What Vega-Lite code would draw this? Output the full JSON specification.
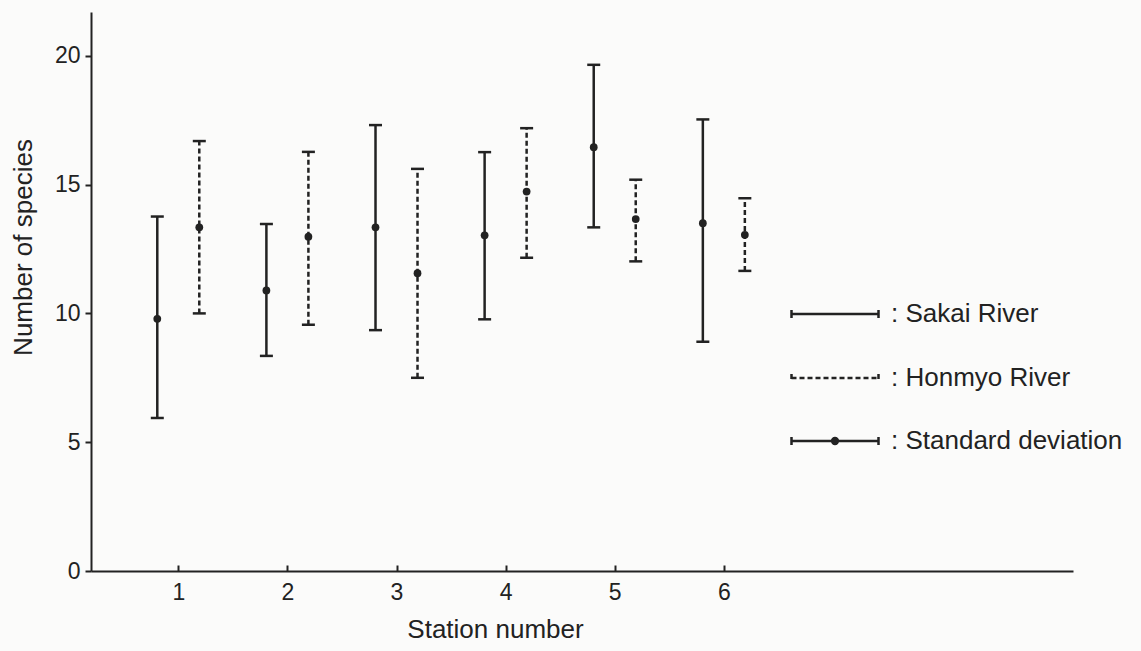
{
  "$schema": "https://vega.github.io/schema/vega-lite/v6.json",
  "width": 982,
  "height": 559,
  "autosize": {"type": "none"},
  "padding": {"left": 91, "top": 12, "right": 68, "bottom": 80},
  "background": "#fbfbfa",
  "config": {
    "view": {"stroke": null},
    "font": "Liberation Sans",
    "axis": {
      "grid": false,
      "domainColor": "#222222",
      "domainWidth": 2,
      "tickColor": "#222222",
      "tickWidth": 2,
      "labelFont": "Liberation Sans",
      "labelFontSize": 23,
      "labelColor": "#222222",
      "titleFont": "Liberation Sans",
      "titleFontSize": 26,
      "titleFontWeight": "normal",
      "titleColor": "#222222"
    },
    "legend": {
      "labelFont": "Liberation Sans",
      "labelFontSize": 26,
      "labelColor": "#222222",
      "labelLimit": 400
    }
  },
  "data": {
    "values": [
      {"station": 1, "river": "Sakai River", "mean": 9.79, "lo": 5.94, "hi": 13.76},
      {"station": 1, "river": "Honmyo River", "mean": 13.34, "lo": 10.0, "hi": 16.69},
      {"station": 2, "river": "Sakai River", "mean": 10.89, "lo": 8.35, "hi": 13.47},
      {"station": 2, "river": "Honmyo River", "mean": 12.98, "lo": 9.56, "hi": 16.27},
      {"station": 3, "river": "Sakai River", "mean": 13.34, "lo": 9.35, "hi": 17.31},
      {"station": 3, "river": "Honmyo River", "mean": 11.56, "lo": 7.5, "hi": 15.61},
      {"station": 4, "river": "Sakai River", "mean": 13.03, "lo": 9.77, "hi": 16.26},
      {"station": 4, "river": "Honmyo River", "mean": 14.73, "lo": 12.16, "hi": 17.19},
      {"station": 5, "river": "Sakai River", "mean": 16.45, "lo": 13.34, "hi": 19.65},
      {"station": 5, "river": "Honmyo River", "mean": 13.66, "lo": 12.02, "hi": 15.19},
      {"station": 6, "river": "Sakai River", "mean": 13.5, "lo": 8.9, "hi": 17.53},
      {"station": 6, "river": "Honmyo River", "mean": 13.05, "lo": 11.65, "hi": 14.47}
    ]
  },
  "encoding": {
    "x": {
      "field": "station",
      "type": "quantitative",
      "scale": {"domain": [0.2, 9.2], "nice": false, "zero": false},
      "axis": {
        "values": [1, 2, 3, 4, 5, 6],
        "tickSize": -6,
        "labelPadding": 16,
        "title": "Station number",
        "titlePadding": 12,
        "titleX": 404,
        "titleAlign": "center"
      }
    }
  },
  "layer": [
    {
      "mark": {"type": "rule", "color": "#222222", "strokeWidth": 2.5, "xOffset": {"expr": "datum.river === 'Sakai River' ? -21 : 21"}},
      "encoding": {
        "y": {
          "field": "lo",
          "type": "quantitative",
          "scale": {"domain": [0, 21.7], "nice": false},
          "axis": {
            "values": [0, 5, 10, 15, 20],
            "tickSize": 6,
            "labelPadding": 5,
            "title": "Number of species",
            "titlePadding": 18,
            "titleY": 235
          }
        },
        "y2": {"field": "hi"},
        "strokeDash": {
          "field": "river",
          "type": "nominal",
          "scale": {"domain": ["Sakai River", "Honmyo River"], "range": [[1, 0], [5, 3]]},
          "legend": {
            "title": null,
            "orient": "none",
            "legendX": 699,
            "legendY": 286,
            "symbolType": "M-1,-0.28L-1,0.28M-1,0L5,0M5,-0.28L5,0.28",
            "symbolSize": 841,
            "symbolStrokeWidth": 2.5,
            "symbolStrokeColor": "#222222",
            "labelOffset": 69,
            "rowPadding": 35,
            "labelExpr": "': ' + datum.label"
          }
        }
      }
    },
    {
      "mark": {"type": "tick", "orient": "horizontal", "color": "#222222", "opacity": 1, "thickness": 2.5, "size": 13, "xOffset": {"expr": "datum.river === 'Sakai River' ? -21 : 21"}},
      "encoding": {"y": {"field": "hi", "type": "quantitative"}}
    },
    {
      "mark": {"type": "tick", "orient": "horizontal", "color": "#222222", "opacity": 1, "thickness": 2.5, "size": 13, "xOffset": {"expr": "datum.river === 'Sakai River' ? -21 : 21"}},
      "encoding": {"y": {"field": "lo", "type": "quantitative"}}
    },
    {
      "mark": {"type": "point", "filled": true, "color": "#222222", "size": 60, "opacity": 1, "xOffset": {"expr": "datum.river === 'Sakai River' ? -21 : 21"}},
      "encoding": {
        "y": {"field": "mean", "type": "quantitative"}
      }
    },
    {
      "mark": {"type": "point", "filled": false, "color": "#222222", "opacity": 0, "strokeWidth": 2.5},
      "encoding": {
        "y": {"field": "mean", "type": "quantitative"},
        "shape": {
          "datum": "Standard deviation",
          "scale": {"range": ["M-1,-0.28L-1,0.28M-1,0L5,0M5,-0.28L5,0.28M1.92,0A0.08,0.08,0,1,0,2.08,0A0.08,0.08,0,1,0,1.92,0M1.8,0A0.2,0.2,0,1,0,2.2,0A0.2,0.2,0,1,0,1.8,0"]},
          "legend": {
            "title": null,
            "orient": "none",
            "legendX": 699,
            "legendY": 413,
            "symbolSize": 841,
            "symbolOpacity": 1,
            "symbolStrokeColor": "#222222",
            "symbolStrokeWidth": 2.5,
            "labelOffset": 69,
            "labelExpr": "': ' + datum.label",
            "encode": {
              "symbols": {
                "update": {
                  "stroke": {"value": "#222222"},
                  "strokeWidth": {"value": 2.5},
                  "opacity": {"value": 1}
                }
              }
            }
          }
        }
      }
    }
  ]
}
